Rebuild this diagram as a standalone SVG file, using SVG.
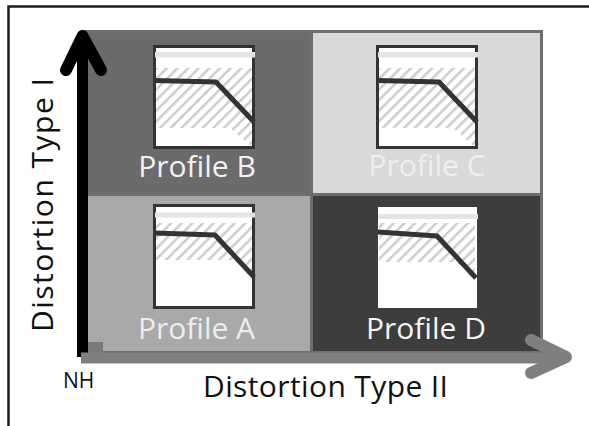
<svg xmlns="http://www.w3.org/2000/svg" width="589" height="426" viewBox="0 0 589 426">
<defs>
<pattern id="hatch" patternUnits="userSpaceOnUse" width="7.5" height="7.5" patternTransform="rotate(45)">
<rect x="0" y="0" width="2.5" height="7.5" fill="#cdcdcd"/>
</pattern>
<style>
.lbl{font-family:"Open Sans","Liberation Sans",sans-serif;font-size:30px;text-anchor:middle}
.ax{font-family:"Open Sans","Liberation Sans",sans-serif;font-size:30px;fill:#111}
.quad{stroke:#6e6e6e;stroke-width:3}
.box{fill:#fff;stroke:#333;stroke-width:3}
.bar{fill:#e4e4e4}
.hat{fill:url(#hatch)}
.curve{fill:none;stroke:#333;stroke-width:5;stroke-linejoin:round}
</style>
</defs>
<rect width="589" height="426" fill="#fff"/>
<path d="M8.5,426 V6.5 H589" fill="none" stroke="#1e1e1e" stroke-width="2.5"/>

<g id="profile-b">
<rect class="quad" x="83" y="31.5" width="228.5" height="163" fill="#6b6b6b"/>
<rect class="box" x="154.5" y="46.5" width="99" height="101"/>
<path class="hat" d="M156,68 H252 V147 L230,128 H156 Z"/>
<rect class="bar" x="155" y="52" width="100" height="5.5"/>
<polyline class="curve" points="154,80.5 216,82 254,122"/>
<text class="lbl" x="197" y="177" fill="#f2f2f2">Profile B</text>
</g>

<g id="profile-c">
<rect class="quad" x="311.5" y="31.5" width="230" height="163" fill="#d9d9d9"/>
<rect class="box" x="377.5" y="46.5" width="99" height="101"/>
<path class="hat" d="M379,68 H475 V147 L453,128 H379 Z"/>
<rect class="bar" x="378" y="52" width="100" height="5.5"/>
<polyline class="curve" points="377,80.5 439,82 477,122"/>
<text class="lbl" x="427" y="176" fill="#efefef">Profile C</text>
</g>

<g id="profile-a">
<rect class="quad" x="83" y="194.5" width="228.5" height="158" fill="#a9a9a9"/>
<rect class="box" x="154.5" y="205.5" width="99" height="102"/>
<path class="hat" d="M156,223 H252 V272 L232,260 H156 Z"/>
<rect class="bar" x="155" y="212.5" width="100" height="5"/>
<polyline class="curve" points="154,233 215,235 254,277"/>
<text class="lbl" x="196.5" y="339" fill="#ededed">Profile A</text>
</g>

<g id="profile-d">
<rect class="quad" x="311.5" y="194.5" width="230" height="158" fill="#3d3d3d"/>
<rect x="378" y="207" width="99" height="101" fill="#fff"/>
<path class="hat" d="M379,223 H475 V275 L455,262 H379 Z"/>
<rect class="bar" x="378" y="214" width="100" height="5"/>
<polyline class="curve" points="378,232 437,236 476,278"/>
<text class="lbl" x="426" y="339" fill="#f5f5f5">Profile D</text>
</g>

<g id="connectors">
<line x1="82.5" y1="357" x2="82.5" y2="36" stroke="#000" stroke-width="11"/>
<polyline points="66,70 82.5,36 101,70" fill="none" stroke="#000" stroke-width="12" stroke-linecap="round" stroke-linejoin="round"/>
<rect x="88" y="342" width="15" height="11" fill="#7a7a7a"/>
<line x1="81" y1="358" x2="566" y2="358" stroke="#7f7f7f" stroke-width="11"/>
<polyline points="531,340 566,357 531,373" fill="none" stroke="#7f7f7f" stroke-width="12" stroke-linecap="round" stroke-linejoin="round"/>
</g>

<g id="axis-labels">
<text class="ax" transform="translate(53,332) rotate(-90)" x="0" y="0" textLength="254">Distortion Type I</text>
<text class="ax" x="203" y="397" textLength="245">Distortion Type II</text>
<text class="ax" x="63" y="388" style="font-size:21px">NH</text>
</g>
</svg>
